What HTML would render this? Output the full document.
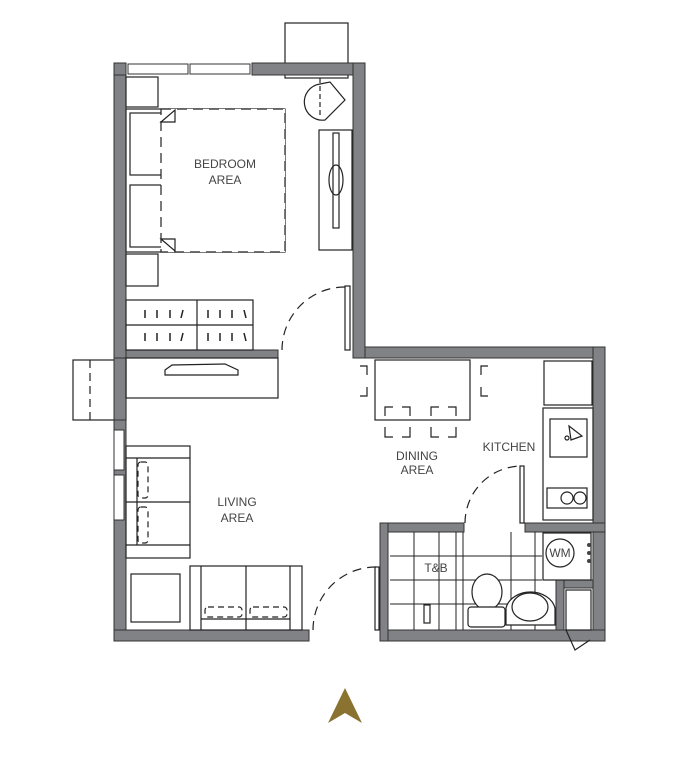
<!DOCTYPE html>
<html><head><meta charset="utf-8"><style>
html,body{margin:0;padding:0;background:#fff;}
svg{display:block;}
text{font-family:"Liberation Sans",sans-serif;font-size:12px;fill:#444;}
</style></head><body>
<svg width="700" height="773" viewBox="0 0 700 773" xmlns="http://www.w3.org/2000/svg">
<g fill="none" stroke="#222" stroke-width="1.2">
<rect x="285" y="23" width="63" height="55"/>
<rect x="73" y="360" width="53" height="60"/>
<line x1="90" y1="360" x2="90" y2="420" stroke-dasharray="8,5"/>
</g>
<g fill="#808285" stroke="#333" stroke-width="1">
<rect x="114" y="63" width="12" height="578"/>
<rect x="252" y="63" width="113" height="12"/>
<rect x="353" y="63" width="12" height="295"/>
<rect x="126" y="350" width="152" height="8"/>
<rect x="365" y="347" width="240" height="11"/>
<rect x="593" y="347" width="12" height="294"/>
<rect x="114" y="630" width="195" height="11"/>
<rect x="380" y="630" width="225" height="11"/>
<rect x="380" y="523" width="84" height="9"/>
<rect x="525" y="523" width="80" height="9"/>
<rect x="380" y="523" width="8" height="118"/>
<rect x="556" y="580" width="37" height="8"/>
<rect x="556" y="580" width="8" height="50"/>
</g>
<g fill="#fff" stroke="#333" stroke-width="1">
<rect x="114" y="63" width="12" height="12" fill="#808285"/>
<rect x="128" y="64" width="60" height="10"/>
<rect x="190" y="64" width="60" height="10"/>
<rect x="114" y="430" width="10" height="40"/>
<rect x="114" y="475" width="10" height="45"/>
<rect x="114" y="358" width="12" height="62" fill="#808285"/>
</g>
<g fill="none" stroke="#222" stroke-width="1.2">
<rect x="126" y="77" width="32" height="30"/>
<rect x="126" y="254" width="32" height="32"/>
<rect x="126" y="109" width="159" height="143"/>
<rect x="130" y="113" width="32" height="62"/>
<rect x="130" y="185" width="32" height="62"/>
<rect x="161" y="109" width="124" height="143" stroke-dasharray="10,6" fill="#fff"/>
<path d="M161,122 L175,110 L175,122 Z M161,239 L175,251 L175,239 Z"/>
<rect x="319" y="130" width="33" height="120"/>
<rect x="333" y="133" width="6" height="95"/>
<ellipse cx="336" cy="180" rx="7" ry="15"/>
<path d="M320,84 A14,14 0 0 0 325,120 L345,100 L330,82 Z"/>
<line x1="320" y1="78" x2="320" y2="115" stroke-dasharray="5,3"/>
<rect x="126" y="300" width="127" height="50"/>
<line x1="197" y1="300" x2="197" y2="350"/>
<line x1="126" y1="325" x2="253" y2="325"/>
<g stroke-width="1.5">
<path d="M145,310v8M157,310v8M170,310v8M183,310l-2,8M208,310v8M220,310v8M232,310v8M244,310l2,8M145,333v8M157,333v8M170,333v8M183,333l-2,8M208,333v8M220,333v8M232,333v8M244,333l2,8"/>
</g>
<path d="M282,350 A63,63 0 0 1 345,287" stroke-dasharray="9,6"/>
<rect x="345" y="286" width="5" height="64"/>
<rect x="126" y="358" width="152" height="40"/>
<path d="M165,370 L172,365 L225,364 L238,370 L238,375 L165,375 Z"/>
<rect x="126" y="446" width="64" height="112"/>
<line x1="126" y1="458" x2="190" y2="458"/>
<line x1="126" y1="545" x2="190" y2="545"/>
<line x1="126" y1="502" x2="190" y2="502"/>
<line x1="137" y1="458" x2="137" y2="545"/>
<rect x="138" y="462" width="10" height="36" rx="3" stroke-dasharray="6,4"/>
<rect x="138" y="507" width="10" height="36" rx="3" stroke-dasharray="6,4"/>
<rect x="131" y="574" width="49" height="48"/>
<rect x="190" y="566" width="112" height="64"/>
<line x1="201" y1="566" x2="201" y2="630"/>
<line x1="290" y1="566" x2="290" y2="630"/>
<line x1="246" y1="566" x2="246" y2="630"/>
<line x1="201" y1="619" x2="290" y2="619"/>
<rect x="205" y="607" width="37" height="10" rx="3" stroke-dasharray="6,4"/>
<rect x="250" y="607" width="37" height="10" rx="3" stroke-dasharray="6,4"/>
<path d="M313,630 A63,63 0 0 1 376,567" stroke-dasharray="9,6"/>
<rect x="375" y="567" width="4" height="63"/>
<!-- dining -->
<rect x="375" y="360" width="95" height="60"/>
<path d="M360,366h7v9M360,396h7v-9M488,366h-7v9M488,396h-7v-9M385,416v-9h8M410,416v-9h-8M431,416v-9h8M456,416v-9h-8M385,427v10h8M410,427v10h-8M431,427v10h8M456,427v10h-8"/>
<!-- kitchen -->
<rect x="544" y="361" width="48" height="44"/>
<rect x="543" y="408" width="50" height="112"/>
<rect x="550" y="419" width="37" height="38"/>
<path d="M569,426 L582,436 L571,440 Z"/>
<circle cx="567" cy="438" r="2"/>
<rect x="547" y="488" width="40" height="20"/>
<circle cx="567" cy="498" r="6"/><circle cx="580" cy="498" r="6"/>
<path d="M465,523 A57,57 0 0 1 521,466" stroke-dasharray="9,6"/>
<rect x="520" y="466" width="4" height="57"/>
<g stroke-width="1">
<path d="M414,532v98M439,532v98M456,532v98M463,532v98M511,532v98M535,532v98M390,556h152M390,580h152M390,604h152"/>
</g>
<rect x="543" y="533" width="48" height="47" fill="#fff"/>
<circle cx="560" cy="553" r="14" fill="#fff"/>
<ellipse cx="487" cy="592" rx="15" ry="18" fill="#fff"/>
<rect x="468" y="607" width="37" height="20" rx="3" fill="#fff"/>
<path d="M506,625 L506,608 A25,20 0 0 1 555,608 L555,625 Z" fill="#fff"/>
<ellipse cx="530" cy="607" rx="18" ry="14"/>
<rect x="424" y="605" width="6" height="18"/>
<rect x="566" y="590" width="25" height="40" fill="#fff"/>
<path d="M566,630 L575,650 L590,640"/>
</g>
<g fill="#444">
<circle cx="589" cy="545" r="2"/><circle cx="589" cy="553" r="2"/><circle cx="589" cy="561" r="2"/>
</g>
<text x="225" y="168" text-anchor="middle">BEDROOM</text>
<text x="225" y="184" text-anchor="middle">AREA</text>
<text x="237" y="506" text-anchor="middle">LIVING</text>
<text x="237" y="522" text-anchor="middle">AREA</text>
<text x="417" y="460" text-anchor="middle">DINING</text>
<text x="417" y="474" text-anchor="middle">AREA</text>
<text x="509" y="451" text-anchor="middle">KITCHEN</text>
<text x="436" y="572" text-anchor="middle">T&amp;B</text>
<text x="560" y="557" text-anchor="middle" font-size="11">WM</text>
<path d="M345,688 L328,723 L345,713 L362,723 Z" fill="#8a7330"/>
</svg>
</body></html>
